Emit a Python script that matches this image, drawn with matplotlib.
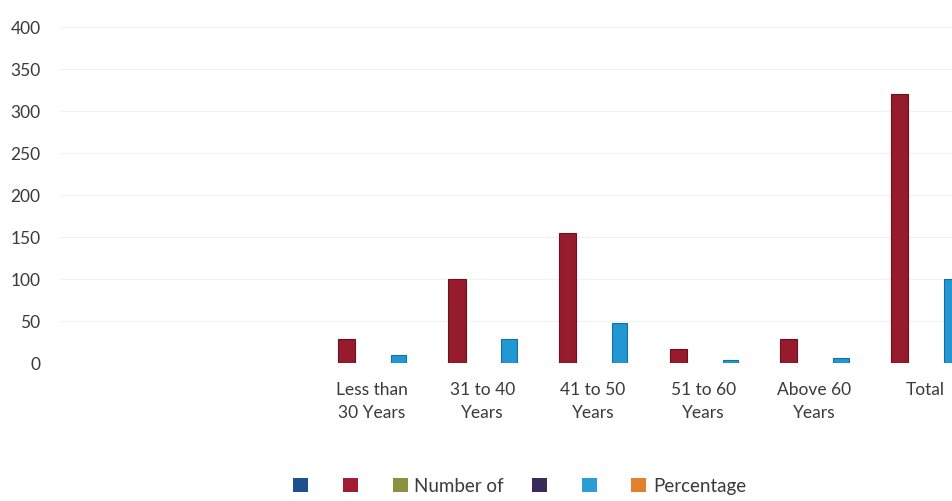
import matplotlib.pyplot as plt
from matplotlib.patches import Patch
import numpy as np

# --- Data ---
categories = ['Less than\n30 Years', '31 to 40\nYears', '41 to 50\nYears',
              '51 to 60\nYears', 'Above 60\nYears', 'Total']
number_of = [28, 100, 155, 17, 28, 320]
percentage = [9, 28, 48, 3, 6, 100]

y_ticks = [0, 50, 100, 150, 200, 250, 300, 350, 400]

# legend entries as they appear (merged header cells give blank names)
legend_labels = ['', '', 'Number of', '', '', 'Percentage']
legend_colors = ['#1f4f8f', '#a11d31', '#8c9140', '#3a2b5c', '#2b9ed8', '#e2802c']

red = '#961b2c'
cyan = '#2197d4'
text_col = '#3a3a3a'

plt.rcParams['font.family'] = ['Lato', 'DejaVu Sans']

fig = plt.figure(figsize=(9.52, 5.02), dpi=100)
ax = fig.add_axes([60 / 952, 1 - 364 / 502, 1 - 60 / 952, (364 - 28) / 502])

x = np.arange(len(categories))
ax.bar(x - 0.23, number_of, 0.155, color=red, edgecolor='#6e1020', linewidth=0.8, zorder=3)
ax.bar(x + 0.24, percentage, 0.14, color=cyan, edgecolor='#16709f', linewidth=0.8, zorder=3)

ax.set_xlim(-2.82, 5.245)
ax.set_ylim(0, 400)
ax.set_yticks(y_ticks)
ax.set_xticks(x)
ax.set_xticklabels(categories, linespacing=1.5)
ax.tick_params(axis='both', length=0, colors=text_col, labelsize=12.5)
ax.tick_params(axis='x', pad=13)
ax.tick_params(axis='y', pad=14)
ax.grid(axis='y', color='#f1f1f1', linewidth=0.8, zorder=0)
for s in ax.spines.values():
    s.set_visible(False)

handles = [Patch(facecolor=c, edgecolor='none') for c in legend_colors]
fig.legend(handles, legend_labels, loc='center', bbox_to_anchor=(0.546, 0.03),
           ncol=6, frameon=False, fontsize=13.5, handlelength=0.8, handleheight=0.8,
           handletextpad=0.35, columnspacing=1.5, labelcolor=text_col)

fig.savefig('out.png', dpi=100)
